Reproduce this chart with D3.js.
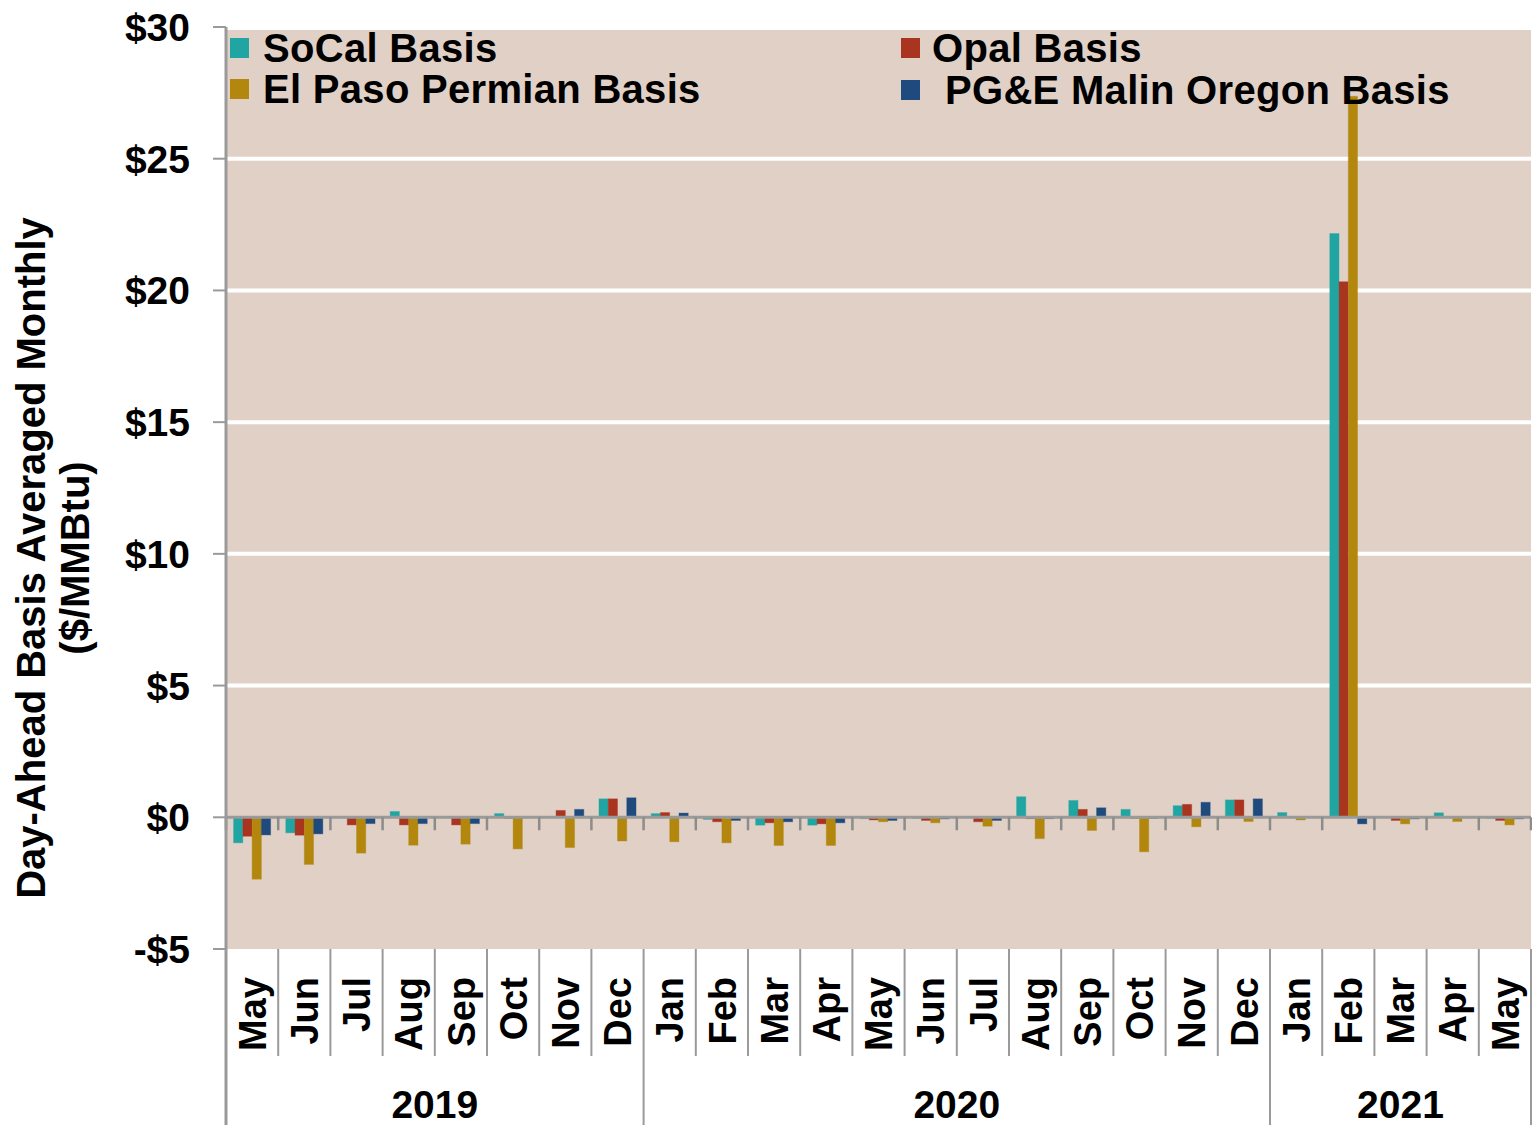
<!DOCTYPE html>
<meta charset="utf-8">
<body style="margin:0;background:#fff">
<script src="https://d3js.org/d3.v7.min.js"></script>
<script>
// months along the bottom, years that group them
var months = ["May","Jun","Jul","Aug","Sep","Oct","Nov","Dec",
              "Jan","Feb","Mar","Apr","May","Jun","Jul","Aug","Sep","Oct","Nov","Dec",
              "Jan","Feb","Mar","Apr","May"];
var years = ["2019", "2020", "2021"];
var yearStart = [0, 8, 20];   // index of first month in each year
var yearEnd = [8, 20, 25];

var seriesNames = ["SoCal Basis", "Opal Basis", "El Paso Permian Basis", "PG&E Malin Oregon Basis"];
var seriesColors = ["#21a5a3", "#a9341f", "#b3870d", "#1f4a7e"];

// $/MMBtu
var socal  = [-0.97,-0.59, 0.02, 0.22, 0.02, 0.14, 0.03, 0.70,
               0.14,-0.08,-0.30,-0.30,-0.05,-0.02, 0.02, 0.78, 0.64, 0.30, 0.44, 0.66,
               0.18,22.16, 0.02, 0.17,-0.03];
var opal   = [-0.72,-0.68,-0.29,-0.29,-0.29,-0.02, 0.26, 0.70,
               0.18,-0.17,-0.21,-0.25,-0.10,-0.12,-0.17,-0.05, 0.30,-0.02, 0.49, 0.66,
               0.02,20.33,-0.12, 0.02,-0.12];
var elpaso = [-2.35,-1.79,-1.36,-1.06,-1.02,-1.20,-1.15,-0.90,
              -0.93,-0.97,-1.07,-1.07,-0.17,-0.21,-0.34,-0.81,-0.50,-1.31,-0.36,-0.16,
              -0.10,27.37,-0.25,-0.16,-0.29];
var pge    = [-0.67,-0.63,-0.24,-0.24,-0.24, 0.02, 0.30, 0.74,
               0.16,-0.12,-0.17,-0.21,-0.12,-0.06,-0.12,-0.05, 0.36,-0.03, 0.57, 0.70,
               0.03,-0.25,-0.06, 0.02,-0.06];
var series = [socal, opal, elpaso, pge];

var yTicks = [-5, 0, 5, 10, 15, 20, 25, 30];

var width = 1532, height = 1125;
var plotLeft = 226, plotRight = 1531, plotTop = 27, plotBottom = 949;
var font = "'Liberation Sans', Arial, sans-serif";

var svg = d3.select("body").append("svg")
    .attr("width", width)
    .attr("height", height)
    .style("display", "block");

var x = d3.scaleBand()
    .domain(d3.range(months.length))
    .range([plotLeft, plotRight])
    .paddingInner(0.29)
    .paddingOuter(0.145);

var x1 = d3.scaleBand()
    .domain(d3.range(series.length))
    .range([0, x.bandwidth()]);

var y = d3.scaleLinear()
    .domain([-5, 30])
    .range([plotBottom, plotTop]);

function edge(i) {
  // left boundary of month i
  return plotLeft + i * x.step();
}

// plot background
svg.append("rect")
    .attr("x", plotLeft)
    .attr("y", y(30) + 3)
    .attr("width", plotRight - plotLeft)
    .attr("height", y(-5) - y(30) - 3)
    .attr("fill", "#e0d0c6");

// gridlines
svg.append("g").selectAll("line")
    .data(yTicks.filter(function(d) { return d > 0 && d < 30; }))
    .enter().append("line")
    .attr("x1", plotLeft).attr("x2", plotRight)
    .attr("y1", function(d) { return y(d); })
    .attr("y2", function(d) { return y(d); })
    .attr("stroke", "#fff")
    .attr("stroke-width", 4);

// bars
var groups = svg.append("g").selectAll("g")
    .data(months)
    .enter().append("g")
    .attr("transform", function(d, i) { return "translate(" + x(i) + ",0)"; });

groups.selectAll("rect")
    .data(function(d, i) { return series.map(function(s, k) { return {k: k, v: s[i]}; }); })
    .enter().append("rect")
    .attr("x", function(d) { return x1(d.k); })
    .attr("width", x1.bandwidth())
    .attr("y", function(d) { return y(Math.max(0, d.v)); })
    .attr("height", function(d) { return Math.max(1, Math.abs(y(d.v) - y(0))); })
    .attr("fill", function(d) { return seriesColors[d.k]; })
    .attr("stroke", function(d) { return seriesColors[d.k]; })
    .attr("stroke-opacity", 0.35)
    .attr("stroke-width", 1);

// zero line with month ticks
svg.append("line")
    .attr("x1", plotLeft).attr("x2", plotRight)
    .attr("y1", y(0)).attr("y2", y(0))
    .attr("stroke", "#9a9a9a")
    .attr("stroke-width", 3);

svg.append("g").selectAll("line")
    .data(d3.range(months.length + 1))
    .enter().append("line")
    .attr("x1", function(i) { return edge(i); })
    .attr("x2", function(i) { return edge(i); })
    .attr("y1", y(0))
    .attr("y2", y(0) + 13)
    .attr("stroke", "#8c8c8c")
    .attr("stroke-width", 2.5);

// y axis
svg.append("line")
    .attr("x1", plotLeft).attr("x2", plotLeft)
    .attr("y1", plotTop).attr("y2", height)
    .attr("stroke", "#9a9a9a")
    .attr("stroke-width", 3);

svg.append("g").selectAll("line")
    .data(yTicks)
    .enter().append("line")
    .attr("x1", plotLeft - 13).attr("x2", plotLeft)
    .attr("y1", function(d) { return y(d); })
    .attr("y2", function(d) { return y(d); })
    .attr("stroke", "#9a9a9a")
    .attr("stroke-width", 2);

svg.append("g").selectAll("text")
    .data(yTicks)
    .enter().append("text")
    .attr("x", 190)
    .attr("y", function(d) { return y(d); })
    .attr("dy", "0.36em")
    .attr("text-anchor", "end")
    .style("font", "bold 39px " + font)
    .text(function(d) { return (d < 0 ? "-$" : "$") + Math.abs(d); });

// y title
var yt = svg.append("text")
    .attr("transform", "translate(45,558) rotate(-90)")
    .attr("text-anchor", "middle")
    .style("font", "bold 40px " + font);
yt.append("tspan").attr("x", 0).attr("dy", 0).text("Day-Ahead Basis Averaged Monthly");
yt.append("tspan").attr("x", 0).attr("dy", 44).text("($/MMBtu)");

// category axis below the plot
svg.append("g").selectAll("line")
    .data(d3.range(months.length + 1))
    .enter().append("line")
    .attr("x1", function(i) { return edge(i); })
    .attr("x2", function(i) { return edge(i); })
    .attr("y1", plotBottom)
    .attr("y2", function(i) { return yearStart.indexOf(i) >= 0 || i == months.length ? height : 1056; })
    .attr("stroke", "#9a9a9a")
    .attr("stroke-width", 2);

svg.append("g").selectAll("text")
    .data(months)
    .enter().append("text")
    .attr("transform", function(d, i) {
      return "translate(" + (x(i) + x.bandwidth() / 2) + ",977) rotate(-90)";
    })
    .attr("dy", "0.36em")
    .attr("text-anchor", "end")
    .style("font", "bold 38px " + font)
    .text(function(d) { return d; });

svg.append("g").selectAll("text")
    .data(years)
    .enter().append("text")
    .attr("x", function(d, i) { return (edge(yearStart[i]) + edge(yearEnd[i])) / 2; })
    .attr("y", 1118)
    .attr("text-anchor", "middle")
    .style("font", "bold 39px " + font)
    .text(function(d) { return d; });

// legend
var legendPos = [[230, 38, 263], [901, 38, 932], [230, 79, 263], [901, 80, 945]];
var legend = svg.append("g").selectAll("g")
    .data(seriesNames)
    .enter().append("g");

legend.append("rect")
    .attr("x", function(d, i) { return legendPos[i][0]; })
    .attr("y", function(d, i) { return legendPos[i][1]; })
    .attr("width", 19)
    .attr("height", 20)
    .attr("fill", function(d, i) { return seriesColors[i]; });

legend.append("text")
    .attr("x", function(d, i) { return legendPos[i][2]; })
    .attr("y", function(d, i) { return legendPos[i][1] + 24; })
    .style("font", "bold 40px " + font)
    .style("letter-spacing", "0.3px")
    .text(function(d) { return d; });
</script>
</body>
